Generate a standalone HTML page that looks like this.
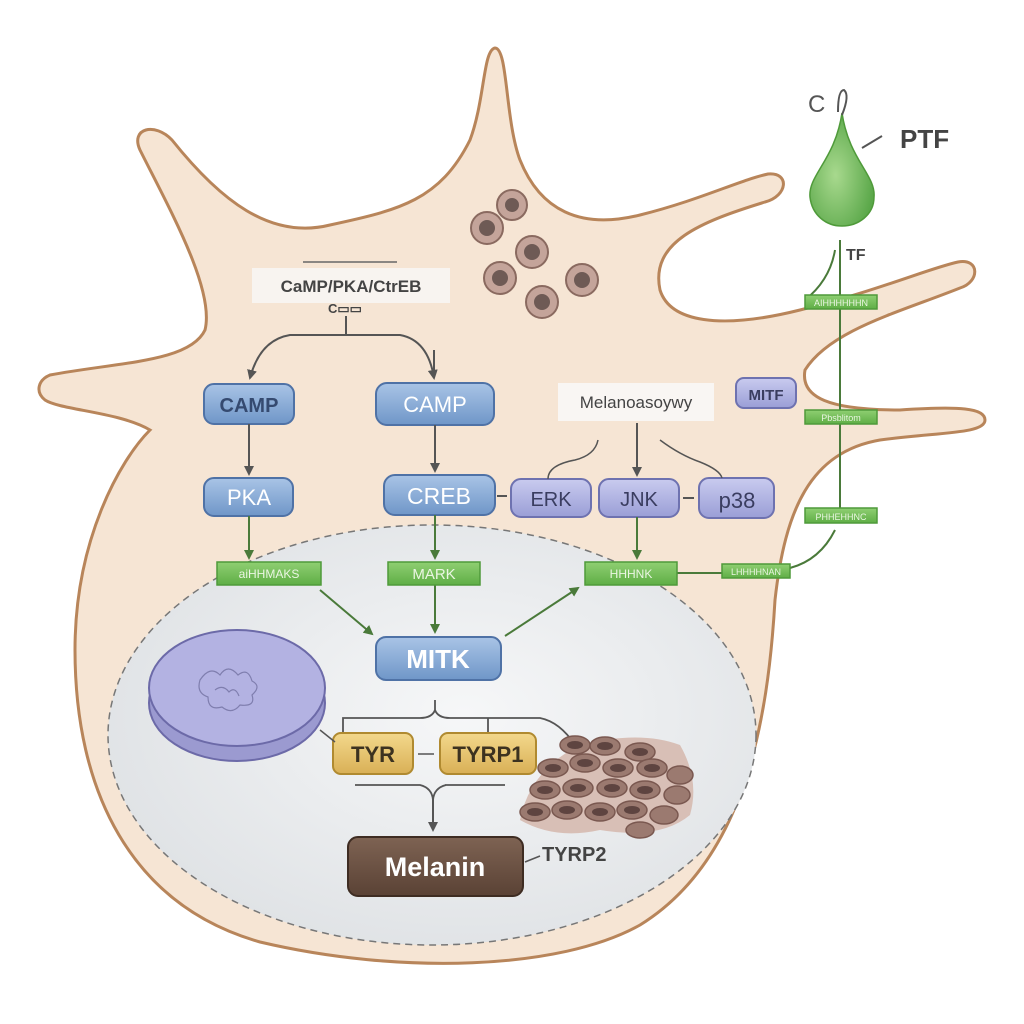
<!DOCTYPE html>
<html><head><meta charset="utf-8"><style>
html,body{margin:0;padding:0;background:#fff}
svg{display:block}
text{font-family:"Liberation Sans",sans-serif}
</style></head><body>
<svg width="1024" height="1024" viewBox="0 0 1024 1024" xmlns="http://www.w3.org/2000/svg">
<defs>
<linearGradient id="blue" x1="0" y1="0" x2="0" y2="1"><stop offset="0" stop-color="#a9c4e6"/><stop offset="1" stop-color="#6f96c8"/></linearGradient>
<linearGradient id="lav" x1="0" y1="0" x2="0" y2="1"><stop offset="0" stop-color="#c9cbef"/><stop offset="1" stop-color="#9a9ed6"/></linearGradient>
<linearGradient id="gold" x1="0" y1="0" x2="0" y2="1"><stop offset="0" stop-color="#f3d88c"/><stop offset="1" stop-color="#d9b056"/></linearGradient>
<linearGradient id="grn" x1="0" y1="0" x2="0" y2="1"><stop offset="0" stop-color="#8fcf72"/><stop offset="1" stop-color="#5fae46"/></linearGradient>
<linearGradient id="brn" x1="0" y1="0" x2="0" y2="1"><stop offset="0" stop-color="#7e6353"/><stop offset="1" stop-color="#5a4235"/></linearGradient>
<radialGradient id="nuc" cx="0.55" cy="0.45" r="0.6"><stop offset="0" stop-color="#f6f7f8"/><stop offset="1" stop-color="#dfe2e5"/></radialGradient>
<radialGradient id="drop" cx="0.4" cy="0.55" r="0.6"><stop offset="0" stop-color="#a8d98e"/><stop offset="1" stop-color="#5ba84a"/></radialGradient>
<marker id="ah" markerWidth="10" markerHeight="10" refX="8" refY="5" orient="auto" markerUnits="userSpaceOnUse"><path d="M0,0 L10,5 L0,10 z" fill="#555"/></marker>
<marker id="ag" markerWidth="10" markerHeight="10" refX="8" refY="5" orient="auto" markerUnits="userSpaceOnUse"><path d="M0,0 L10,5 L0,10 z" fill="#4a7a3a"/></marker>
</defs>
<rect width="1024" height="1024" fill="#fff"/>
<!-- cell -->
<path d="M50,375 C120,362 190,362 205,330 C215,290 170,210 140,150 C130,128 155,122 172,140 C220,200 270,240 330,225 C400,210 440,200 470,140 C485,100 483,50 495,48 C508,48 505,120 520,160 C540,210 580,230 640,215 C700,200 740,180 768,174 C790,172 788,196 765,202 C700,222 650,242 660,290 C670,322 720,330 800,310 C880,290 930,268 958,262 C980,258 980,282 960,288 C900,312 830,330 805,370 C800,398 830,410 900,410 C960,406 985,408 985,420 C985,434 940,432 880,440 C810,452 785,510 775,600 C768,720 745,860 640,925 C560,970 400,975 260,942 C130,905 75,790 75,650 C75,540 120,460 150,430 C120,412 60,410 45,400 C35,392 38,380 50,375 Z" fill="#f6e5d4" stroke="#b8855a" stroke-width="3"/>
<!-- nucleus -->
<ellipse cx="432" cy="735" rx="324" ry="210" fill="url(#nuc)" stroke="#777" stroke-width="1.5" stroke-dasharray="7,5"/>

<!-- vesicles top -->
<g fill="#c4a49a" stroke="#8a6a60" stroke-width="2">
<circle cx="512" cy="205" r="15"/><circle cx="487" cy="228" r="16"/><circle cx="532" cy="252" r="16"/><circle cx="500" cy="278" r="16"/><circle cx="582" cy="280" r="16"/><circle cx="542" cy="302" r="16"/>
</g>
<g fill="#6e5a55"><circle cx="512" cy="205" r="7"/><circle cx="487" cy="228" r="8"/><circle cx="532" cy="252" r="8"/><circle cx="500" cy="278" r="8"/><circle cx="582" cy="280" r="8"/><circle cx="542" cy="302" r="8"/></g>

<!-- header label -->
<line x1="303" y1="262" x2="397" y2="262" stroke="#666" stroke-width="1.5"/>
<rect x="252" y="268" width="198" height="35" fill="#f8f4f0"/>
<text x="351" y="292" font-size="17" font-weight="bold" fill="#444" text-anchor="middle">CaMP/PKA/CtrEB</text>
<text x="345" y="313" font-size="13" font-weight="bold" fill="#444" text-anchor="middle">C▭▭</text>
<path d="M346,316 V335 M346,335 H290 Q260,340 250,378" fill="none" stroke="#555" stroke-width="2" marker-end="url(#ah)"/>
<path d="M346,335 H400 Q428,340 434,378" fill="none" stroke="#555" stroke-width="2" marker-end="url(#ah)"/>
<line x1="434" y1="350" x2="434" y2="376" stroke="#555" stroke-width="2"/>

<!-- blue nodes -->
<g stroke="#4f72a6" stroke-width="2">
<rect x="204" y="384" width="90" height="40" rx="10" fill="url(#blue)"/>
<rect x="376" y="383" width="118" height="42" rx="11" fill="url(#blue)"/>
<rect x="204" y="478" width="89" height="38" rx="10" fill="url(#blue)"/>
<rect x="384" y="475" width="111" height="40" rx="11" fill="url(#blue)"/>
<rect x="376" y="637" width="125" height="43" rx="10" fill="url(#blue)"/>
</g>
<text x="249" y="412" font-size="20" font-weight="bold" fill="#354a70" text-anchor="middle">CAMP</text>
<text x="435" y="412" font-size="22" fill="#fff" text-anchor="middle">CAMP</text>
<text x="249" y="505" font-size="22" fill="#fff" text-anchor="middle">PKA</text>
<text x="439" y="504" font-size="23" fill="#fff" text-anchor="middle">CREB</text>
<text x="438" y="668" font-size="26" font-weight="bold" fill="#fff" text-anchor="middle">MITK</text>

<!-- lavender -->
<g stroke="#6e72b0" stroke-width="2">
<rect x="511" y="479" width="80" height="38" rx="10" fill="url(#lav)"/>
<rect x="599" y="479" width="80" height="38" rx="10" fill="url(#lav)"/>
<rect x="699" y="478" width="75" height="40" rx="10" fill="url(#lav)"/>
<rect x="736" y="378" width="60" height="30" rx="8" fill="url(#lav)"/>
</g>
<text x="551" y="506" font-size="20" fill="#3a3d60" text-anchor="middle">ERK</text>
<text x="639" y="506" font-size="20" fill="#3a3d60" text-anchor="middle">JNK</text>
<text x="737" y="508" font-size="22" fill="#3a3d60" text-anchor="middle">p38</text>
<text x="766" y="400" font-size="15" font-weight="bold" fill="#3a3d60" text-anchor="middle">MITF</text>

<rect x="558" y="383" width="156" height="38" fill="#f9f6f3"/>
<text x="636" y="408" font-size="17" fill="#444" text-anchor="middle">Melanoasoywy</text>

<!-- arrows -->
<g stroke="#555" stroke-width="2" fill="none">
<line x1="249" y1="424" x2="249" y2="474" marker-end="url(#ah)"/>
<line x1="435" y1="425" x2="435" y2="471" marker-end="url(#ah)"/>
<line x1="637" y1="423" x2="637" y2="475" marker-end="url(#ah)"/>
<path d="M548,479 Q548,465 575,460 Q595,455 598,440" stroke-width="1.5"/>
<path d="M660,440 Q680,455 700,462 Q720,470 722,478" stroke-width="1.5"/>
<line x1="497" y1="496" x2="507" y2="496"/>
<line x1="683" y1="498" x2="694" y2="498"/>
</g>
<g stroke="#4a7a3a" stroke-width="2" fill="none">
<line x1="249" y1="516" x2="249" y2="558" marker-end="url(#ag)"/>
<line x1="435" y1="515" x2="435" y2="558" marker-end="url(#ag)"/>
<line x1="637" y1="517" x2="637" y2="558" marker-end="url(#ag)"/>
<line x1="320" y1="590" x2="372" y2="634" marker-end="url(#ag)"/>
<line x1="435" y1="585" x2="435" y2="632" marker-end="url(#ag)"/>
<line x1="505" y1="636" x2="578" y2="588" marker-end="url(#ag)"/>
<line x1="677" y1="573" x2="722" y2="573"/>
<path d="M790,568 Q820,560 835,530"/>
<line x1="840" y1="240" x2="840" y2="522"/>
<path d="M835,250 Q830,280 805,300"/>
</g>

<!-- green bars -->
<g stroke="#4f9a3a" stroke-width="1.5" fill="url(#grn)">
<rect x="217" y="562" width="104" height="23"/>
<rect x="388" y="562" width="92" height="23"/>
<rect x="585" y="562" width="92" height="23"/>
<rect x="722" y="564" width="68" height="14"/>
<rect x="805" y="295" width="72" height="14"/>
<rect x="805" y="410" width="72" height="14"/>
<rect x="805" y="508" width="72" height="15"/>
</g>
<g fill="#eaf6e2" font-size="12" text-anchor="middle">
<text x="269" y="578">aiHHMAKS</text>
<text x="434" y="579" font-size="15">MARK</text>
<text x="631" y="578">HHHNK</text>
<text x="756" y="575" font-size="9">LHHHHNAN</text>
<text x="841" y="306" font-size="9">AIHHHHHHN</text>
<text x="841" y="421" font-size="9">Pbsblitom</text>
<text x="841" y="520" font-size="9">PHHEHHNC</text>
</g>

<!-- drop -->
<path d="M842,113 C835,160 808,175 810,197 C812,215 826,226 842,226 C858,226 874,215 874,197 C876,175 849,160 842,113 Z" fill="url(#drop)" stroke="#4f9a3a" stroke-width="1.5"/>
<text x="808" y="112" font-size="24" fill="#555">C</text>
<path d="M838,112 Q838,90 844,90 Q850,95 842,115" fill="none" stroke="#555" stroke-width="2"/>
<line x1="862" y1="148" x2="882" y2="136" stroke="#555" stroke-width="2"/>
<text x="900" y="148" font-size="26" font-weight="bold" fill="#444">PTF</text>
<text x="846" y="260" font-size="16" font-weight="bold" fill="#444">TF</text>

<!-- purple disc -->
<ellipse cx="237" cy="703" rx="88" ry="58" fill="#9b9ad0" stroke="#6c6aa8" stroke-width="2"/>
<ellipse cx="237" cy="688" rx="88" ry="58" fill="#b3b2e2" stroke="#6c6aa8" stroke-width="2"/>
<g fill="none" stroke="#7f7eae" stroke-width="1.2">
<path d="M200,680 q10,-15 20,-5 q8,-12 18,0 q10,-8 14,6 q10,5 0,14 q4,12 -12,10 q-8,10 -18,2 q-14,4 -14,-10 q-12,-4 -8,-17z"/>
<path d="M215,690 q8,-6 14,2 q6,-6 10,4"/>
</g>

<!-- TYR nodes -->
<path d="M435,700 V710 Q432,718 420,718 H343 V735 M435,710 Q438,718 450,718 H488 V735 M488,718 H540 Q560,722 575,745" fill="none" stroke="#555" stroke-width="1.8"/>
<g stroke="#b08a30" stroke-width="2">
<rect x="333" y="733" width="80" height="41" rx="8" fill="url(#gold)"/>
<rect x="440" y="733" width="96" height="41" rx="8" fill="url(#gold)"/>
</g>
<text x="373" y="762" font-size="22" font-weight="bold" fill="#3c3220" text-anchor="middle">TYR</text>
<text x="488" y="762" font-size="22" font-weight="bold" fill="#3c3220" text-anchor="middle">TYRP1</text>
<line x1="418" y1="754" x2="434" y2="754" stroke="#555" stroke-width="1.5"/>
<path d="M355,785 H420 Q432,788 433,800 Q434,788 446,785 H445 H505" fill="none" stroke="#555" stroke-width="1.8"/>
<line x1="433" y1="795" x2="433" y2="830" stroke="#555" stroke-width="2" marker-end="url(#ah)"/>
<path d="M320,730 L335,742" stroke="#555" stroke-width="1.5"/>

<!-- melanin -->
<rect x="348" y="837" width="175" height="59" rx="10" fill="url(#brn)" stroke="#3e2c22" stroke-width="2"/>
<text x="435" y="876" font-size="27" font-weight="bold" fill="#fff" text-anchor="middle">Melanin</text>
<text x="542" y="861" font-size="20" font-weight="bold" fill="#444">TYRP2</text>
<line x1="525" y1="862" x2="540" y2="856" stroke="#555" stroke-width="1.5"/>

<!-- melanosome cluster -->
<path d="M520,820 Q530,770 580,745 Q640,730 680,745 Q700,780 690,815 Q660,840 600,830 Q555,840 520,820Z" fill="#d8bfb6"/>
<g fill="#9b7a70" stroke="#7a5850" stroke-width="1.5">
<ellipse cx="575" cy="745" rx="15" ry="9"/><ellipse cx="605" cy="746" rx="15" ry="9"/><ellipse cx="640" cy="752" rx="15" ry="9"/>
<ellipse cx="553" cy="768" rx="15" ry="9"/><ellipse cx="585" cy="763" rx="15" ry="9"/><ellipse cx="618" cy="768" rx="15" ry="9"/><ellipse cx="652" cy="768" rx="15" ry="9"/><ellipse cx="680" cy="775" rx="13" ry="9"/>
<ellipse cx="545" cy="790" rx="15" ry="9"/><ellipse cx="578" cy="788" rx="15" ry="9"/><ellipse cx="612" cy="788" rx="15" ry="9"/><ellipse cx="645" cy="790" rx="15" ry="9"/><ellipse cx="677" cy="795" rx="13" ry="9"/>
<ellipse cx="535" cy="812" rx="15" ry="9"/><ellipse cx="567" cy="810" rx="15" ry="9"/><ellipse cx="600" cy="812" rx="15" ry="9"/><ellipse cx="632" cy="810" rx="15" ry="9"/><ellipse cx="664" cy="815" rx="14" ry="9"/>
<ellipse cx="640" cy="830" rx="14" ry="8"/>
</g>
<g fill="#5e4440"><ellipse cx="575" cy="745" rx="8" ry="4"/><ellipse cx="605" cy="746" rx="8" ry="4"/><ellipse cx="640" cy="752" rx="8" ry="4"/><ellipse cx="553" cy="768" rx="8" ry="4"/><ellipse cx="585" cy="763" rx="8" ry="4"/><ellipse cx="618" cy="768" rx="8" ry="4"/><ellipse cx="652" cy="768" rx="8" ry="4"/><ellipse cx="545" cy="790" rx="8" ry="4"/><ellipse cx="578" cy="788" rx="8" ry="4"/><ellipse cx="612" cy="788" rx="8" ry="4"/><ellipse cx="645" cy="790" rx="8" ry="4"/><ellipse cx="535" cy="812" rx="8" ry="4"/><ellipse cx="567" cy="810" rx="8" ry="4"/><ellipse cx="600" cy="812" rx="8" ry="4"/><ellipse cx="632" cy="810" rx="8" ry="4"/></g>
</svg>
</body></html>
